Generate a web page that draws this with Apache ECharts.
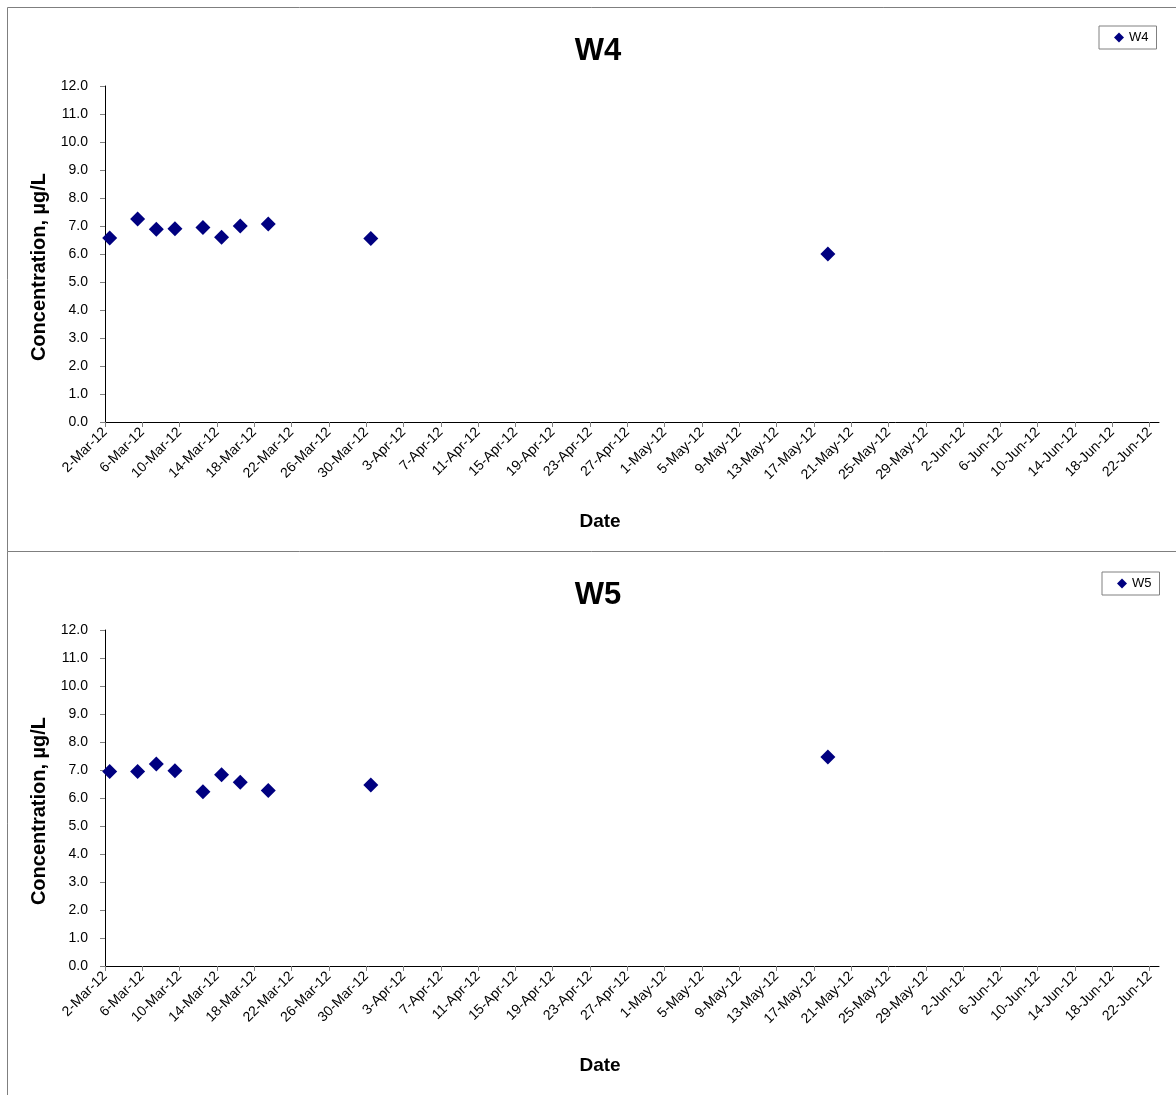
<!DOCTYPE html>
<html><head><meta charset="utf-8">
<script src="https://cdn.jsdelivr.net/npm/echarts@6/dist/echarts.min.js"></script>
<style>html,body{margin:0;padding:0;background:#fff}#c{width:1176px;height:1095px}</style>
</head><body><div id="c"></div>
<script>
// ---- data ----
const sampleDates = ['2012-03-02','2012-03-05','2012-03-07','2012-03-09','2012-03-12','2012-03-14','2012-03-16','2012-03-19','2012-03-30','2012-05-18'];
const w4Values = [6.57, 7.25, 6.88, 6.90, 6.95, 6.60, 7.00, 7.07, 6.55, 6.00];
const w5Values = [6.95, 6.95, 7.21, 6.97, 6.22, 6.83, 6.56, 6.27, 6.46, 7.46];
const xTickLabels = ['2-Mar-12','6-Mar-12','10-Mar-12','14-Mar-12','18-Mar-12','22-Mar-12','26-Mar-12','30-Mar-12','3-Apr-12','7-Apr-12','11-Apr-12','15-Apr-12','19-Apr-12','23-Apr-12','27-Apr-12','1-May-12','5-May-12','9-May-12','13-May-12','17-May-12','21-May-12','25-May-12','29-May-12','2-Jun-12','6-Jun-12','10-Jun-12','14-Jun-12','18-Jun-12','22-Jun-12'];
const xRange = ['2012-03-02','2012-06-23'];
const yMin = 0, yMax = 12, yStep = 1;
const seriesNames = ['W4','W5'];

// ---- helpers ----
const MONTHS = {Jan:0,Feb:1,Mar:2,Apr:3,May:4,Jun:5,Jul:6,Aug:7,Sep:8,Oct:9,Nov:10,Dec:11};
const DAY = 86400000;
function isoToMs(s){const p=s.split('-');return Date.UTC(+p[0],+p[1]-1,+p[2]);}
function labelToMs(s){const p=s.split('-');return Date.UTC(2000+(+p[2]),MONTHS[p[1]],+p[0]);}
const tickMs = xTickLabels.map(labelToMs);
const labelByMs = {}; tickMs.forEach((t,i)=>labelByMs[t]=xTickLabels[i]);
// Excel places each day's point in the middle of its day slot
const pts = vals => sampleDates.map((d,i)=>[isoToMs(d)+DAY/2, vals[i]]);

const FONT = 'Arial, "Liberation Sans", sans-serif';
const PLOT_TOPS = [86, 630];
const PLOT_H = 336;
const MARK = '#000080';

function xAxisFor(gi){
  return {
    type:'value', gridIndex:gi, min:isoToMs(xRange[0]), max:isoToMs(xRange[1]),
    name:'Date', nameLocation:'middle', nameGap:90,
    nameTextStyle:{fontFamily:FONT,fontSize:19,fontWeight:'bold',color:'#000',padding:[0,64,0,0]},
    axisLine:{show:true,onZero:false,lineStyle:{color:'#000',width:1}},
    axisTick:{show:true,length:5,inside:false,lineStyle:{color:'#808080'},customValues:tickMs},
    axisLabel:{customValues:tickMs,rotate:45,margin:8,fontFamily:FONT,fontSize:14,color:'#000',
      formatter:v=>labelByMs[v]||'', hideOverlap:false, showMinLabel:true, showMaxLabel:true},
    splitLine:{show:false}, minorTick:{show:false}
  };
}
function yAxisFor(gi){
  return {
    type:'value', gridIndex:gi, min:yMin, max:yMax, interval:yStep,
    name:'Concentration, µg/L', nameLocation:'middle', nameGap:56, nameRotate:90,
    nameTextStyle:{fontFamily:FONT,fontSize:20,fontWeight:'bold',color:'#000',padding:[0,26,0,0]},
    axisLine:{show:true,onZero:false,lineStyle:{color:'#000',width:1}},
    axisTick:{show:true,length:5,inside:false,lineStyle:{color:'#808080'}},
    axisLabel:{margin:17,fontFamily:FONT,fontSize:14,color:'#000',formatter:v=>v.toFixed(1)},
    splitLine:{show:false}
  };
}

const panelLine = {stroke:'#7f7f7f', lineWidth:1};
const option = {
  animation:false,
  backgroundColor:'#fff',
  grid: PLOT_TOPS.map(t=>({left:105,right:17,top:t,height:PLOT_H,containLabel:false})),
  xAxis:[xAxisFor(0), xAxisFor(1)],
  yAxis:[yAxisFor(0), yAxisFor(1)],
  legend:[
    {data:[seriesNames[0]], left:1099, top:26},
    {data:[seriesNames[1]], left:1102, top:572}
  ].map(l=>Object.assign(l,{
    orient:'horizontal', icon:'diamond', itemWidth:10, itemHeight:10, itemGap:0,
    padding:[5,8,5,15], borderColor:'#808080', borderWidth:1, backgroundColor:'#fff',
    itemStyle:{color:MARK, opacity:1},
    textStyle:{fontFamily:FONT,fontSize:13,color:'#000'}, selectedMode:false
  })),
  graphic:[
    {type:'line', shape:{x1:7.5,y1:7.5,x2:1176,y2:7.5}, style:panelLine, silent:true},
    {type:'line', shape:{x1:7.5,y1:7.5,x2:7.5,y2:1095}, style:panelLine, silent:true},
    {type:'line', shape:{x1:7.5,y1:551.5,x2:1176,y2:551.5}, style:panelLine, silent:true},
    {type:'text', x:598, y:51, silent:true, style:{text:seriesNames[0], fontFamily:FONT, fontSize:31, fontWeight:'bold', fill:'#000', align:'center', verticalAlign:'middle'}},
    {type:'text', x:598, y:595, silent:true, style:{text:seriesNames[1], fontFamily:FONT, fontSize:31, fontWeight:'bold', fill:'#000', align:'center', verticalAlign:'middle'}}
  ],
  series:[
    {name:seriesNames[0], type:'scatter', xAxisIndex:0, yAxisIndex:0, data:pts(w4Values),
     symbol:'diamond', symbolSize:15, itemStyle:{color:MARK, opacity:1}},
    {name:seriesNames[1], type:'scatter', xAxisIndex:1, yAxisIndex:1, data:pts(w5Values),
     symbol:'diamond', symbolSize:15, itemStyle:{color:MARK, opacity:1}}
  ]
};
const chart = echarts.init(document.getElementById('c'), null, {renderer:'canvas'});
chart.setOption(option);
</script>
</body></html>
